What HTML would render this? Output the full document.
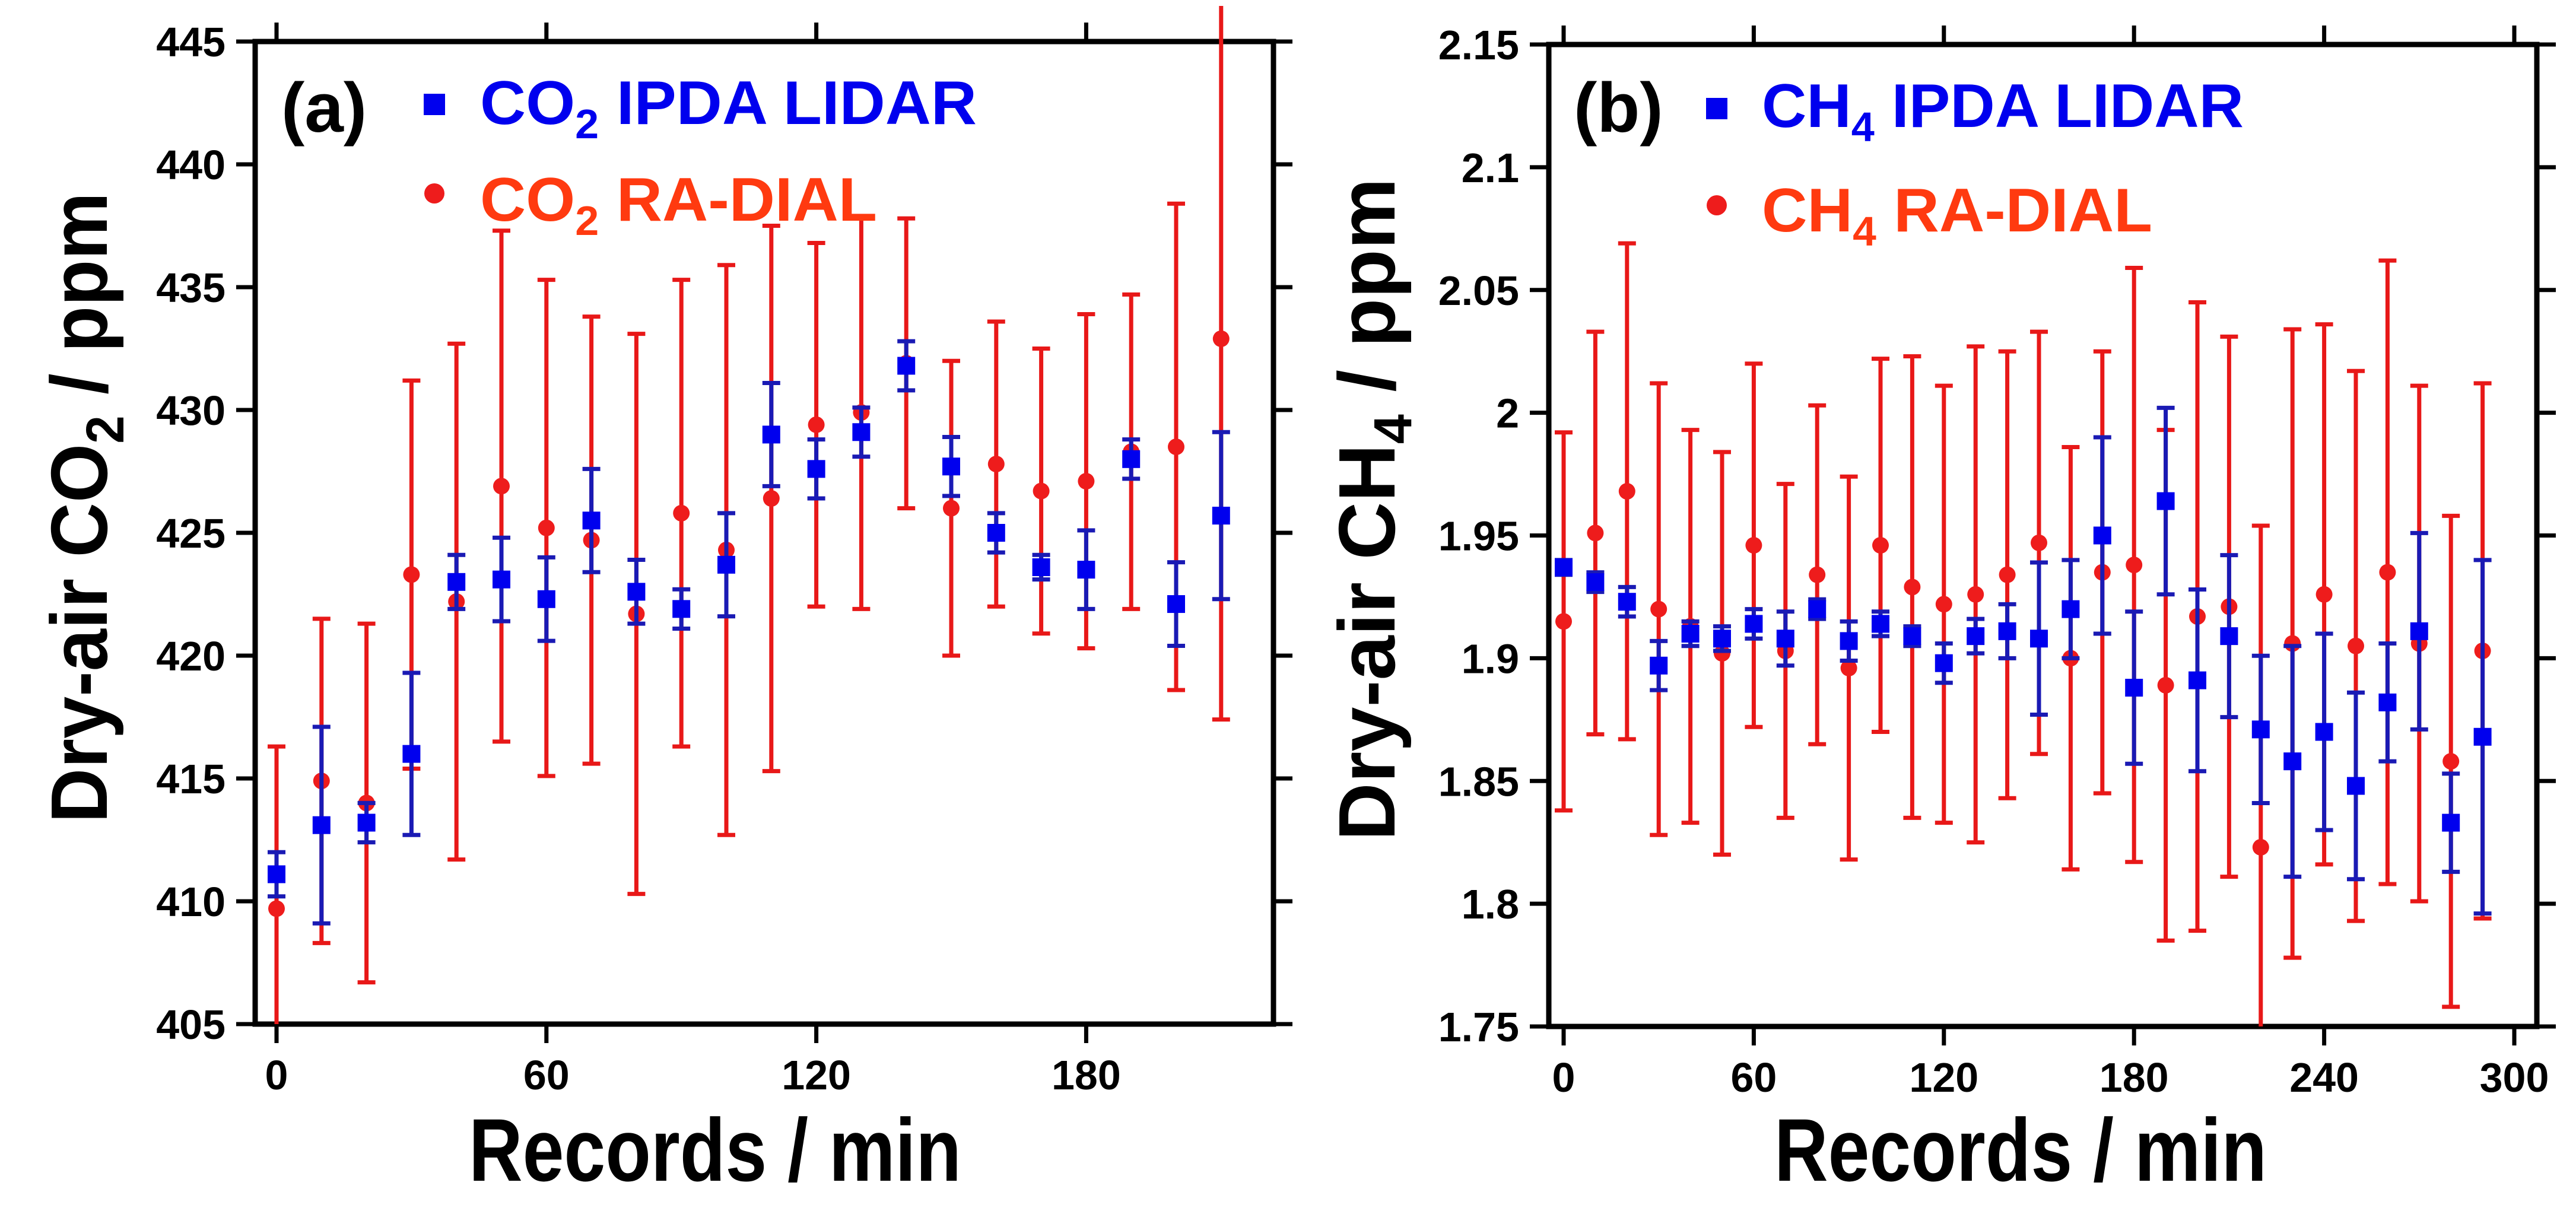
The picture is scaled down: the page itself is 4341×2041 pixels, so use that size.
<!DOCTYPE html>
<html><head><meta charset="utf-8"><style>
html,body{margin:0;padding:0;background:#fff;}
svg{display:block;font-family:"Liberation Sans",Arial,sans-serif;}
</style></head><body>
<svg id="fig" width="4341" height="2041" viewBox="0 0 4341 2041" xmlns="http://www.w3.org/2000/svg">
<rect width="4341" height="2041" fill="#fff"/>
<g id="pa"></g>
<g id="pb"></g>
</svg>
<script>
// ---------- Panel (a) data: CO2 ----------
const timeA = [0,10,20,30,40,50,60,70,80,90,100,110,120,130,140,150,160,170,180,190,200,210];
const co2Lidar = [411.1,413.1,413.2,416.0,423.0,423.1,422.3,425.5,422.6,421.9,423.7,429.0,427.6,429.1,431.8,427.7,425.0,423.6,423.5,428.0,422.1,425.7];
const co2LidarErr = [0.9,4.0,0.8,3.3,1.1,1.7,1.7,2.1,1.3,0.8,2.1,2.1,1.2,1.0,1.0,1.2,0.8,0.5,1.6,0.8,1.7,3.4];
const co2Dial = [409.7,414.9,414.0,423.3,422.2,426.9,425.2,424.7,421.7,425.8,424.3,426.4,429.4,429.9,431.9,426.0,427.8,426.7,427.1,428.3,428.5,432.9];
const co2DialErr = [6.6,6.6,7.3,7.9,10.5,10.4,10.1,9.1,11.4,9.5,11.6,11.1,7.4,8.0,5.9,6.0,5.8,5.8,6.8,6.4,9.9,15.5];
const yTicksA = [405,410,415,420,425,430,435,440,445];
const xTicksA = [0,60,120,180];

// ---------- Panel (b) data: CH4 ----------
const timeB = [0,10,20,30,40,50,60,70,80,90,100,110,120,130,140,150,160,170,180,190,200,210,220,230,240,250,260,270,280,290];
const ch4Lidar = [1.937,1.931,1.923,1.897,1.910,1.908,1.914,1.908,1.920,1.907,1.914,1.909,1.898,1.909,1.911,1.908,1.920,1.950,1.888,1.964,1.891,1.909,1.871,1.858,1.870,1.848,1.882,1.911,1.833,1.868];
const ch4LidarErr = [0.003,0.004,0.006,0.010,0.005,0.005,0.006,0.011,0.004,0.008,0.005,0.004,0.008,0.007,0.011,0.031,0.020,0.040,0.031,0.038,0.037,0.033,0.030,0.047,0.040,0.038,0.024,0.040,0.020,0.072];
const ch4Dial = [1.915,1.951,1.968,1.920,1.913,1.902,1.946,1.903,1.934,1.896,1.946,1.929,1.922,1.926,1.934,1.947,1.900,1.935,1.938,1.889,1.917,1.921,1.823,1.906,1.926,1.905,1.935,1.906,1.858,1.903];
const ch4DialErr = [0.077,0.082,0.101,0.092,0.080,0.082,0.074,0.068,0.069,0.078,0.076,0.094,0.089,0.101,0.091,0.086,0.086,0.090,0.121,0.104,0.128,0.110,0.131,0.128,0.110,0.112,0.127,0.105,0.100,0.109];
const yTicksB = [1.75,1.8,1.85,1.9,1.95,2,2.05,2.1,2.15];
const yTickLabelsB = ["1.75","1.8","1.85","1.9","1.95","2","2.05","2.1","2.15"];
const xTicksB = [0,60,120,180,240,300];

const NS = "http://www.w3.org/2000/svg";
function mk(parent, tag, attrs){
  const e = document.createElementNS(NS, tag);
  for (const k in attrs) e.setAttribute(k, attrs[k]);
  parent.appendChild(e);
  return e;
}

function drawPanel(g, cfg){
  const L=cfg.L, R=cfg.R, T=cfg.T, B=cfg.B;
  const xs = v => cfg.x0px + (v - 0) * cfg.pxPerX;
  const ys = v => B - (v - cfg.ymin) / (cfg.ymax - cfg.ymin) * (B - T);
  const clip = mk(g,'clipPath',{id:cfg.id+'clip'});
  mk(clip,'rect',{x:L,y:T-60,width:R-L,height:B-T+60});
  cfg.yTicks.forEach((t,i)=>{
    const y = ys(t);
    const tk = mk(g,'line',{x1:L-32,x2:L,y1:y,y2:y,stroke:'#000','stroke-width':7});
    
    
    const tr = mk(g,'line',{x1:R,x2:R+32,y1:y,y2:y,stroke:'#000','stroke-width':7});
    
    
    const lb = mk(g,'text',{x:L-50,y:y+25,'text-anchor':'end','font-size':70,'font-weight':'bold',fill:'#000'});
    lb.textContent = cfg.yLabels[i];
    
    
  });
  cfg.xTicks.forEach(t=>{
    const x = xs(t);
    const tb = mk(g,'line',{x1:x,x2:x,y1:B,y2:B+32,stroke:'#000','stroke-width':7});
    
    
    const tt = mk(g,'line',{x1:x,x2:x,y1:T-32,y2:T,stroke:'#000','stroke-width':7});
    
    
    const lb = mk(g,'text',{x:x,y:B+110,'text-anchor':'middle','font-size':70,'font-weight':'bold',fill:'#000'});
    lb.textContent = String(t);
    
    
  });
  const fr = mk(g,'rect',{x:L,y:T,width:R-L,height:B-T,fill:'none',stroke:'#000','stroke-width':9});
  
  

  const data = mk(g,'g',{'clip-path':'url(#'+cfg.id+'clip)'});
  function series(vals, errs, color, barColor, marker, name){
    const sg = mk(data,'g',{});
    
    
    cfg.times.forEach((t,i)=>{
      const x = xs(t), y = ys(vals[i]);
      const yh = ys(vals[i]+errs[i]), yl = ys(vals[i]-errs[i]);
      const eb = mk(sg,'path',{d:`M${x},${yh}V${yl}M${x-15},${yh}H${x+15}M${x-15},${yl}H${x+15}`,stroke:barColor,'stroke-width':7,fill:'none'});
      
      
      let m;
      if (marker==='square') m = mk(sg,'rect',{x:x-15,y:y-15,width:30,height:30,fill:color});
      else m = mk(sg,'circle',{cx:x,cy:y,r:14,fill:color});
      
      
    });
  }
  series(cfg.dial, cfg.dialErr, '#ee1c1c', '#e81818', 'circle', 'ra-dial-series');
  series(cfg.lidar, cfg.lidarErr, '#0000ee', '#1a1ab4', 'square', 'ipda-lidar-series');
}

const pa = document.getElementById('pa');
drawPanel(pa,{id:'a',L:430,R:2146,T:70,B:1726,x0px:466,pxPerX:7.58,ymin:405,ymax:445,
  yTicks:yTicksA,yLabels:yTicksA.map(String),xTicks:xTicksA,times:timeA,
  lidar:co2Lidar,lidarErr:co2LidarErr,dial:co2Dial,dialErr:co2DialErr});
const pb = document.getElementById('pb');
drawPanel(pb,{id:'b',L:2610,R:4275,T:75,B:1730,x0px:2635,pxPerX:5.34,ymin:1.75,ymax:2.15,
  yTicks:yTicksB,yLabels:yTickLabelsB,xTicks:xTicksB,times:timeB,
  lidar:ch4Lidar,lidarErr:ch4LidarErr,dial:ch4Dial,dialErr:ch4DialErr});
</script>
<svg style="position:absolute;left:0;top:0" width="4341" height="2041" viewBox="0 0 4341 2041" font-family="Liberation Sans, Arial, sans-serif" font-weight="bold">
  <text x="474" y="222" font-size="118" fill="#000">(a)</text>
  <rect x="714" y="158" width="36" height="36" fill="#0000ee"/>
  <text x="809" y="209" font-size="104" fill="#0000ee" textLength="837" lengthAdjust="spacingAndGlyphs">CO<tspan font-size="70" dy="24">2</tspan><tspan dy="-24"> IPDA LIDAR</tspan></text>
  <circle cx="732" cy="326" r="17" fill="#ee1c1c"/>
  <text x="809" y="372" font-size="104" fill="#ff3a10" textLength="669" lengthAdjust="spacingAndGlyphs">CO<tspan font-size="70" dy="24">2</tspan><tspan dy="-24"> RA-DIAL</tspan></text>
  <text x="790" y="1990" font-size="150" fill="#000" textLength="830" lengthAdjust="spacingAndGlyphs">Records / min</text>
  <text transform="translate(180,1387) rotate(-90)" x="0" y="0" font-size="135" fill="#000" textLength="1063" lengthAdjust="spacingAndGlyphs">Dry-air CO<tspan font-size="90" dy="28">2</tspan><tspan dy="-28"> / ppm</tspan></text>
  <text x="2652" y="222" font-size="118" fill="#000">(b)</text>
  <rect x="2875" y="165" width="36" height="36" fill="#0000ee"/>
  <text x="2969" y="214" font-size="104" fill="#0000ee" textLength="812" lengthAdjust="spacingAndGlyphs">CH<tspan font-size="70" dy="24">4</tspan><tspan dy="-24"> IPDA LIDAR</tspan></text>
  <circle cx="2893" cy="346" r="17" fill="#ee1c1c"/>
  <text x="2969" y="390" font-size="104" fill="#ff3a10" textLength="658" lengthAdjust="spacingAndGlyphs">CH<tspan font-size="70" dy="24">4</tspan><tspan dy="-24"> RA-DIAL</tspan></text>
  <text x="2990" y="1990" font-size="150" fill="#000" textLength="830" lengthAdjust="spacingAndGlyphs">Records / min</text>
  <text transform="translate(2350,1417) rotate(-90)" x="0" y="0" font-size="135" fill="#000" textLength="1117" lengthAdjust="spacingAndGlyphs">Dry-air CH<tspan font-size="90" dy="28">4</tspan><tspan dy="-28">  / ppm</tspan></text>
</svg>
</body></html>
